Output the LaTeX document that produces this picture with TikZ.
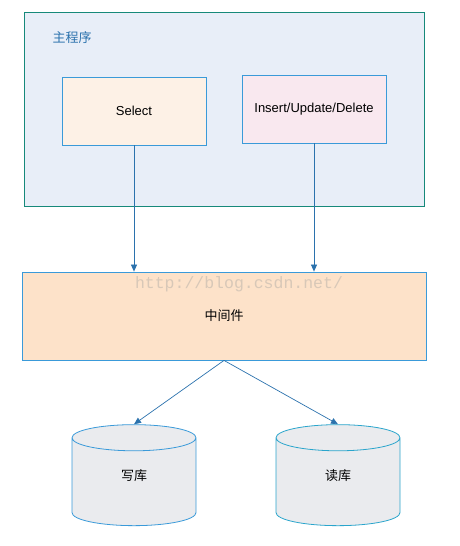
\documentclass[tikz,border=0pt]{standalone}
\usepackage{fontspec}
\setmainfont{Liberation Sans}
\newfontfamily\cjk{Noto Sans CJK SC}
\newfontfamily\wmfont{Liberation Mono}
\usetikzlibrary{shapes.geometric, arrows.meta, positioning}
\definecolor{frm}{HTML}{16897A}
\definecolor{mainbg}{HTML}{E8EEF8}
\definecolor{bdr}{HTML}{3A9AD9}
\definecolor{lnk}{HTML}{2B72AD}
\definecolor{selbg}{HTML}{FDF1E6}
\definecolor{iudbg}{HTML}{F9E8EF}
\definecolor{midbg}{HTML}{FDE2C9}
\definecolor{wmark}{HTML}{D8C8B8}
\definecolor{dbbg}{HTML}{EAEBEE}
\definecolor{dbbdr}{HTML}{2AA5CC}
\tikzset{
  grp/.style  = {rectangle, draw=frm, fill=mainbg, line width=1pt,
                 minimum width=400pt, minimum height=194pt},
  opbox/.style= {rectangle, draw=bdr, fill=#1, line width=0.8pt,
                 minimum width=144pt, minimum height=68pt,
                 font=\fontsize{13}{15}\selectfont, align=center},
  midbox/.style={rectangle, draw=bdr, fill=midbg, line width=0.8pt,
                 minimum width=404pt, minimum height=88pt,
                 font=\fontsize{13}{15}\selectfont\cjk},
  db/.style   = {cylinder, shape border rotate=90, aspect=0.8, draw=#1,
                 fill=dbbg, line width=0.8pt, minimum width=124pt,
                 minimum height=101pt, text depth=17pt,
                 font=\fontsize{13}{15}\selectfont\cjk},
  arr/.style  = {-{Triangle[width=6pt,length=7pt]}, line width=0.7pt, color=lnk},
}

\begin{document}
\begin{tikzpicture}[x=1pt, y=-1pt]
  \useasboundingbox (0,0) rectangle (460,546);

  \node[grp] (main) at (224,109) {};
  \node[font=\fontsize{13}{15}\selectfont\cjk, text=lnk] (title) at (72,38) {主程序};
  \node[opbox=selbg] (sel) at (134,111) {Select};
  \node[opbox=iudbg] (iud) at (314,109) {Insert/Update/Delete};

  \node[midbox] (mid) at (224,316) {中间件};
  \node[font=\fontsize{16.5}{18}\selectfont\wmfont, text=wmark] (wm) at (239,284) {http://blog.csdn.net/};

  \node[db=bdr]   (wdb) at (134,484) {写库};
  \node[db=dbbdr] (rdb) at (338,484) {读库};

  \foreach \i in {sel, iud}
    \draw[arr] (\i.south) -- (\i.south |- mid.north);
  \foreach \j in {wdb, rdb}
    \draw[arr] (mid.south) -- (\j.north);

\end{tikzpicture}
\end{document}
